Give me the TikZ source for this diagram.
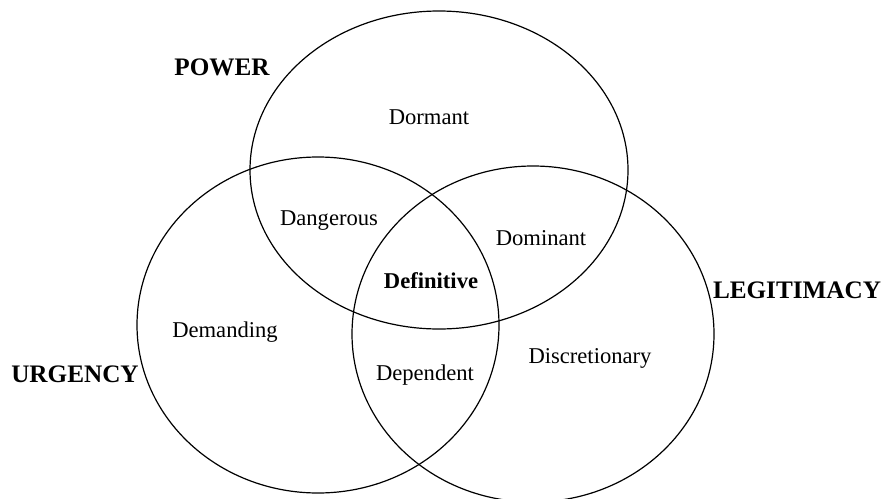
\documentclass[tikz,border=0pt]{standalone}
\usepackage{fontspec}
\setmainfont{Liberation Serif}
\usepackage{tikz}
\usetikzlibrary{positioning}
\tikzset{
  % outline of one attribute set
  vennset/.style={draw=black, line width=0.6pt},
  % name of a stakeholder class inside the sets
  classlabel/.style={font=\fontsize{11.3}{13}\selectfont, inner sep=1pt},
  % the core class, set in bold
  corelabel/.style={classlabel, font=\fontsize{11.3}{13}\selectfont\bfseries},
  % attribute name outside the sets
  attrlabel/.style={font=\fontsize{12.6}{14}\selectfont\bfseries, inner sep=1pt},
}

\begin{document}
\begin{tikzpicture}[x=0.5pt, y=-0.5pt]
  \useasboundingbox (0,0) rectangle (882,498);
  % the three attribute sets
  \draw[vennset] (439,170) ellipse [x radius=189, y radius=159];
  \draw[vennset] (318,325) ellipse [x radius=181, y radius=168];
  \draw[vennset] (533,334) ellipse [x radius=181, y radius=168];
  % attributes
  \node[attrlabel] (power) at (222,67) {POWER};
  \node[attrlabel] (urgency) at (75,374) {URGENCY};
  \node[attrlabel] (legit) at (797,290) {LEGITIMACY};
  % stakeholder classes
  \node[classlabel] (dormant) at (429,117) {Dormant};
  \node[classlabel] (dangerous) at (329,221) {Dangerous};
  \node[classlabel] (dominant) at (541,238) {Dominant};
  \node[corelabel] (definitive) at (431,281) {Definitive};
  \node[classlabel] (demanding) at (225,332) {Demanding};
  \node[classlabel] (discretionary) at (590,358) {Discretionary};
  \node[classlabel] (dependent) at (425,375) {Dependent};
\end{tikzpicture}
\end{document}
